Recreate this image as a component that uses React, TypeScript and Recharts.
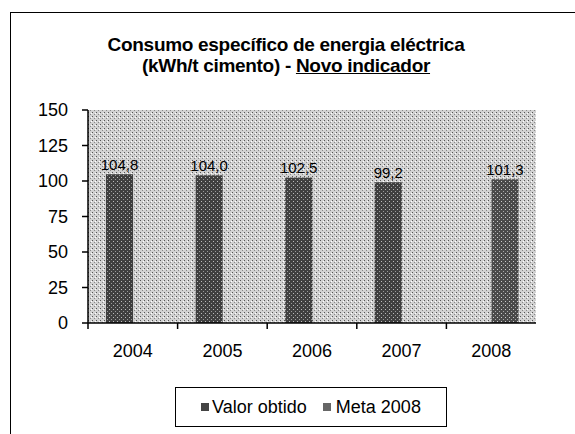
import React from 'react';
import { BarChart, Bar, XAxis, YAxis, CartesianGrid, LabelList } from 'recharts';

const years = ['2004', '2005', '2006', '2007', '2008'];
const valorObtido = [104.8, 104.0, 102.5, 99.2, null];
const meta2008 = [null, null, null, null, 101.3];
const yTicks = [0, 25, 50, 75, 100, 125, 150];

const data = years.map((year, i) => ({ year, valor: valorObtido[i], meta: meta2008[i] }));

const FONT = 'Arial, "Liberation Sans", sans-serif';

const fmt = (v: any) => (v == null ? '' : Number(v).toFixed(1).replace('.', ','));

// category labels centred, tick marks on the category boundaries (Excel style)
const XTick = (props: any) => {
  const { x, y, payload } = props;
  const half = payload && payload.offset ? payload.offset : 45;
  return (
    <g>
      <line x1={x - half} y1={y - 8} x2={x - half} y2={y - 2} stroke="#000" strokeWidth={1.5} />
      <text x={x} y={y + 26} textAnchor="middle" fontSize={18} fill="#000" fontFamily={FONT}>
        {payload.value}
      </text>
    </g>
  );
};

const Patterns = () => (
  <svg width={0} height={0} style={{ position: 'absolute' }}>
    <defs>
      <pattern id="bg" width={4} height={4} patternUnits="userSpaceOnUse">
        <rect width={4} height={4} fill="#d2d2d2" />
        <rect x={0} y={0} width={1} height={1} fill="#555" />
        <rect x={2} y={2} width={1} height={1} fill="#888" />
        <rect x={3} y={1} width={1} height={1} fill="#fff" />
      </pattern>
      <pattern id="barValor" width={4} height={4} patternUnits="userSpaceOnUse">
        <rect width={4} height={4} fill="#3f3f3f" />
        <rect x={1} y={1} width={1} height={1} fill="#bbb" />
        <rect x={3} y={3} width={1} height={1} fill="#999" />
      </pattern>
      <pattern id="barMeta" width={4} height={4} patternUnits="userSpaceOnUse">
        <rect width={4} height={4} fill="#4a4a4a" />
        <rect x={1} y={1} width={1} height={1} fill="#ccc" />
        <rect x={3} y={3} width={1} height={1} fill="#aaa" />
      </pattern>
    </defs>
  </svg>
);

export default function App() {
  return (
    <div
      style={{
        position: 'absolute',
        left: 0,
        top: 0,
        width: 575,
        height: 434,
        overflow: 'hidden',
        background: '#fff',
        fontFamily: FONT,
      }}
    >
      <Patterns />
      {/* outer chart frame, cut off at right and bottom */}
      <div
        style={{
          position: 'absolute',
          left: 10,
          top: 12,
          width: 620,
          height: 500,
          borderLeft: '1.5px solid #000',
          borderTop: '1.5px solid #000',
        }}
      />
      <div
        style={{
          position: 'absolute',
          left: 0,
          top: 34,
          width: 572,
          textAlign: 'center',
          fontWeight: 'bold',
          fontSize: 19,
          lineHeight: '21px',
          color: '#000',
          letterSpacing: -0.3,
        }}
      >
        <div>Consumo específico de energia eléctrica</div>
        <div>
          (kWh/t cimento) - <span style={{ textDecoration: 'underline' }}>Novo indicador</span>
        </div>
      </div>
      <div style={{ position: 'absolute', left: 0, top: 0 }}>
        <BarChart
          width={575}
          height={434}
          data={data}
          margin={{ top: 110, right: 39, left: 20, bottom: 71 }}
          barGap={0}
          barSize={27}
        >
          <CartesianGrid horizontal={false} vertical={false} fill="url(#bg)" />
          <XAxis
            dataKey="year"
            height={40}
            interval={0}
            tickLine={false}
            axisLine={{ stroke: '#000', strokeWidth: 1.5 }}
            tick={<XTick />}
          />
          <YAxis
            yAxisId="left"
            domain={[0, 150]}
            ticks={yTicks}
            width={68}
            tickSize={6}
            tickMargin={14}
            axisLine={{ stroke: '#000', strokeWidth: 1.5 }}
            tickLine={{ stroke: '#000', strokeWidth: 1.5 }}
            tick={{ fill: '#000', fontSize: 18, fontFamily: FONT }}
          />
          <YAxis
            yAxisId="right"
            orientation="right"
            domain={[0, 150]}
            width={0}
            tick={false}
            tickLine={false}
            axisLine={{ stroke: '#555', strokeWidth: 1 }}
          />
          <Bar yAxisId="left" dataKey="valor" name="Valor obtido" fill="url(#barValor)" isAnimationActive={false}>
            <LabelList dataKey="valor" position="top" offset={4} formatter={fmt} fill="#000" fontSize={15} fontFamily={FONT} />
          </Bar>
          <Bar yAxisId="left" dataKey="meta" name="Meta 2008" fill="url(#barMeta)" isAnimationActive={false}>
            <LabelList dataKey="meta" position="top" offset={4} formatter={fmt} fill="#000" fontSize={15} fontFamily={FONT} />
          </Bar>
        </BarChart>
      </div>
      {/* legend */}
      <div
        style={{
          position: 'absolute',
          left: 175,
          top: 387,
          width: 270,
          height: 38,
          border: '1.5px solid #000',
          display: 'flex',
          alignItems: 'center',
          justifyContent: 'center',
          fontSize: 18,
          color: '#000',
          gap: 16,
        }}
      >
        <span style={{ display: 'flex', alignItems: 'center' }}>
          <span style={{ width: 8, height: 8, backgroundColor: '#444', marginRight: 3 }} />
          Valor obtido
        </span>
        <span style={{ display: 'flex', alignItems: 'center' }}>
          <span style={{ width: 8, height: 8, backgroundColor: '#666', marginRight: 5 }} />
          Meta 2008
        </span>
      </div>
    </div>
  );
}
